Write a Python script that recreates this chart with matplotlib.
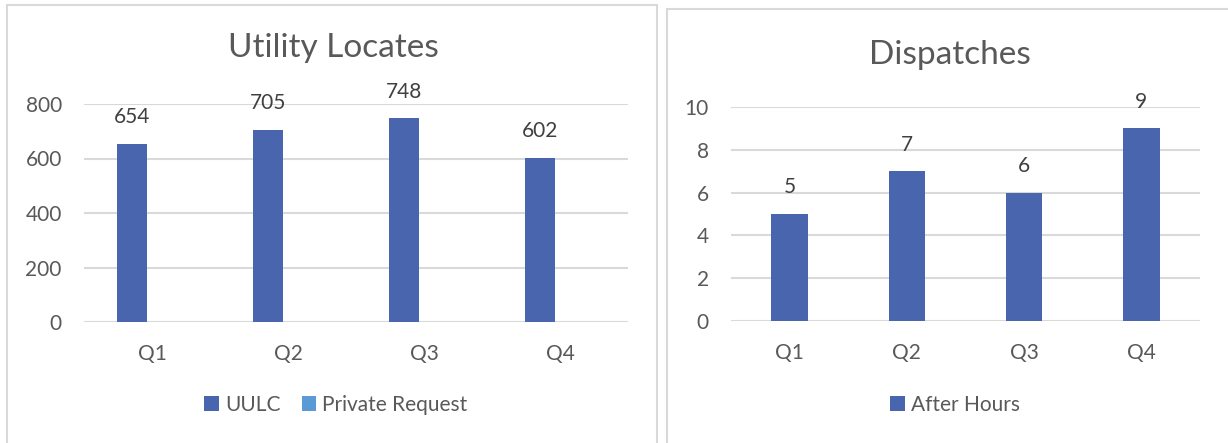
import numpy as np
import matplotlib
matplotlib.use("Agg")
import matplotlib.pyplot as plt
import matplotlib.patches as patches

plt.rcParams['font.family'] = ['Lato', 'DejaVu Sans']

quarters = ["Q1", "Q2", "Q3", "Q4"]
uulc = [654, 705, 748, 602]
private_request = [0, 0, 0, 0]
after_hours = [5, 7, 6, 9]

W, H = 1228, 443
dark_blue = "#4865AD"
light_blue = "#5B9BD5"
text_col = "#595959"
grid_col = "#D9D9D9"

fig = plt.figure(figsize=(W / 100, H / 100), dpi=100)


def px_axes(x0, y0, x1, y1):
    # pixel box (top-left origin) -> figure fraction axes
    return fig.add_axes([x0 / W, 1 - y1 / H, (x1 - x0) / W, (y1 - y0) / H])


def style(ax, ymax, step):
    ax.set_ylim(0, ymax)
    ax.set_xlim(-0.5, 3.5)
    ax.set_yticks(np.arange(0, ymax + step, step))
    ax.set_xticks(range(4))
    ax.set_xticklabels(quarters)
    for s in ax.spines.values():
        s.set_visible(False)
    ax.yaxis.grid(True, color=grid_col, lw=1.5)
    ax.set_axisbelow(True)
    ax.tick_params(length=0, labelsize=15, labelcolor=text_col, pad=16)
    ax.set_clip_on(False)


# panel frames
fig.patches.append(patches.Rectangle((7 / W, -0.05), 650 / W, 1.05 - 5 / H,
                                     transform=fig.transFigure, fill=False,
                                     ec=grid_col, lw=1.5))
fig.patches.append(patches.Rectangle((667 / W, -0.05), 0.5, 1.05 - 9 / H,
                                     transform=fig.transFigure, fill=False,
                                     ec=grid_col, lw=1.5))

# left chart
x = np.arange(4)
ax1 = px_axes(84, 104, 628, 322)
style(ax1, 800, 200)
b1 = ax1.bar(x - 0.147, uulc, 0.224, color=dark_blue, label="UULC", zorder=3)
ax1.bar(x + 0.147, private_request, 0.224, color=light_blue,
        label="Private Request", zorder=3)
for rect, v in zip(b1, uulc):
    ax1.annotate(str(v), (rect.get_x() + rect.get_width() / 2, v),
                 xytext=(0, 12), textcoords="offset points", ha="center",
                 va="bottom", fontsize=15, color="#404040")
fig.text(333 / W, 1 - 48 / H, "Utility Locates", ha="center", va="center",
         fontsize=24, color=text_col)
ax1.legend(loc="center", bbox_to_anchor=(336 / W, 1 - 405 / H),
           bbox_transform=fig.transFigure, ncol=2, frameon=False,
           handlelength=0.7, handleheight=0.7, handletextpad=0.3,
           columnspacing=1.0, fontsize=15, labelcolor=text_col)

# right chart
ax2 = px_axes(731, 107, 1200, 321)
style(ax2, 10, 2)
b2 = ax2.bar(x, after_hours, 0.31, color=dark_blue, label="After Hours", zorder=3)
for rect, v in zip(b2, after_hours):
    ax2.annotate(str(v), (rect.get_x() + rect.get_width() / 2, v),
                 xytext=(0, 12), textcoords="offset points", ha="center",
                 va="bottom", fontsize=15, color="#404040")
fig.text(950 / W, 1 - 55 / H, "Dispatches", ha="center", va="center",
         fontsize=24, color=text_col)
ax2.legend(loc="center", bbox_to_anchor=(955 / W, 1 - 405 / H),
           bbox_transform=fig.transFigure, frameon=False,
           handlelength=0.7, handleheight=0.7, handletextpad=0.3,
           fontsize=15, labelcolor=text_col)

fig.savefig("out.png", dpi=100)
